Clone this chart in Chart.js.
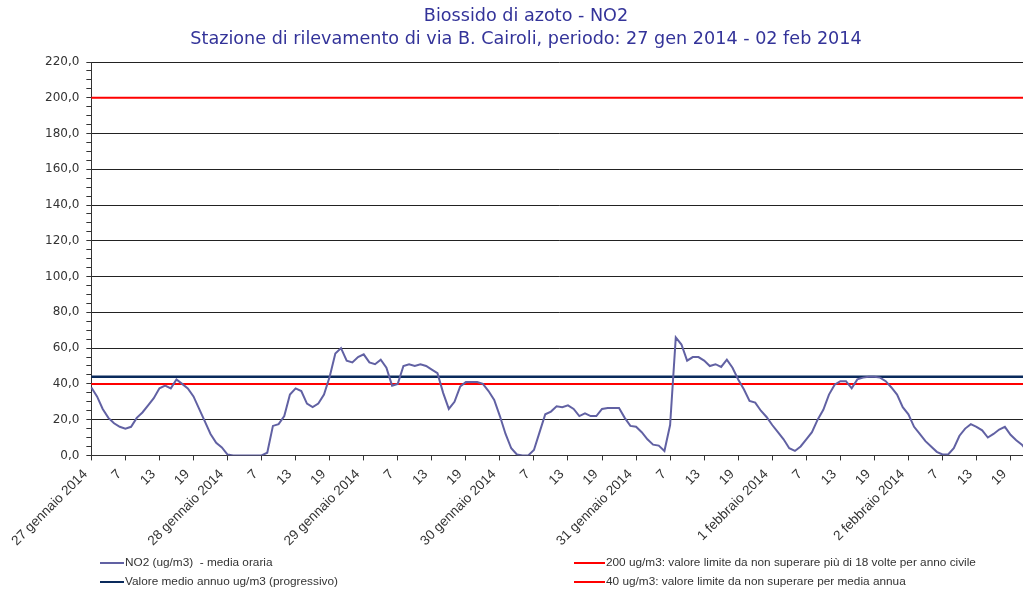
<!DOCTYPE html>
<html lang="it">
<head>
<meta charset="utf-8">
<title>Biossido di azoto - NO2</title>
<script src="https://cdn.jsdelivr.net/npm/chart.js@4.4.1/dist/chart.umd.min.js"></script>
<style>
  html, body { margin: 0; padding: 0; background: #fff; }
  #wrap { position: relative; width: 1023px; height: 590px; overflow: hidden; }
  #grafico { position: absolute; left: 0; top: 0; }
  #titolo {
    position: absolute; left: 0; top: 4px; width: 1052px;
    text-align: center; color: #333399;
    font: 17.6px "DejaVu Sans", sans-serif; line-height: 23px;
  }
  .colonna { position: absolute; top: 553px; font: 11.8px "Liberation Sans", Arial, sans-serif; color: #333; }
  .voce { height: 19px; line-height: 19px; white-space: pre; }
  .voce i { display: inline-block; height: 2px; vertical-align: middle; margin-right: 1px; }
  #legenda-sx .voce i { width: 24px; }
  #legenda-dx .voce i { width: 31px; }
</style>
</head>
<body>
<div id="wrap">
  <canvas id="grafico" width="1028" height="590"></canvas>
  <div id="titolo">Biossido di azoto - NO2<br>Stazione di rilevamento di via B. Cairoli, periodo: 27 gen 2014 - 02 feb 2014</div>
  <div class="colonna" id="legenda-sx" style="left: 100px;"></div>
  <div class="colonna" id="legenda-dx" style="left: 574px;"></div>
</div>
<script>
// giorni del periodo (etichette principali dell'asse x)
const giorni = [
  '27 gennaio 2014', '28 gennaio 2014', '29 gennaio 2014', '30 gennaio 2014',
  '31 gennaio 2014', '1 febbraio 2014', '2 febbraio 2014'
];

// NO2 media oraria (ug/m3), un valore per ora a partire dalle 1 del 27 gennaio
const valori = [
  38, 33, 26, 21, 18, 16, 15, 16, 21, 24, 28, 32, 37.5, 39, 37.5, 42.5, 40, 37.5, 33, 26, 19, 12, 7, 4.5,
  0.5, 0, 0, 0, 0, 0, 0, 1.5, 16.5, 17.5, 22, 34, 37.5, 36, 29, 27, 29, 34, 44, 57, 60, 53, 52, 55,
  56.5, 52, 51, 53.5, 49, 39, 40, 50, 51, 50, 51, 50, 48, 46, 35, 26, 30, 38.5, 41, 41, 41, 40, 36, 31,
  22, 12, 4, 0.5, 0, 0, 3, 13, 23, 24.5, 27.5, 27, 28, 26, 22, 23.5, 22, 22, 26, 26.5, 26.5, 26.5, 21, 16.5,
  16, 13, 9, 6, 5.5, 2.5, 17, 66, 62, 53, 55, 55, 53, 50, 51, 49.5, 53.5, 49, 42.5, 37, 30.5, 29.5, 25, 21.5,
  17, 13, 9, 4, 2.5, 5, 9, 13, 20, 25.5, 34, 39.5, 41.5, 41.5, 37.5, 42.5, 43.5, 44, 44, 43.5, 41.5, 38, 34, 27,
  23, 16, 12, 8, 5, 2, 0.5, 0.5, 4, 11, 15, 17.5, 16, 14, 10, 12, 14.5, 16, 11.5, 8.5, 6, 2
];

// valori di riferimento
const mediaAnnua = 44;
const limiteOrario = 200;
const limiteAnnuo = 40;
const yMax = 220;

// una categoria per ogni ora
const ore = valori.map((v, i) => giorni[Math.floor(i / 24)] + ' ore ' + (i % 24 + 1));

function lineaCostante(valore) {
  return [{ x: ore[0], y: valore }, { x: ore[ore.length - 1], y: valore }];
}

const datasets = [
  {
    label: 'NO2 (ug/m3)  - media oraria',
    data: valori,
    borderColor: '#6161a3',
    borderWidth: 2,
    colonna: 'sx'
  },
  {
    label: 'Valore medio annuo ug/m3 (progressivo)',
    data: lineaCostante(mediaAnnua),
    borderColor: '#0a2a5c',
    borderWidth: 2.5,
    colonna: 'sx'
  },
  {
    label: '200 ug/m3: valore limite da non superare più di 18 volte per anno civile',
    data: lineaCostante(limiteOrario),
    borderColor: '#ff0000',
    borderWidth: 2,
    colonna: 'dx'
  },
  {
    label: '40 ug/m3: valore limite da non superare per media annua',
    data: lineaCostante(limiteAnnuo),
    borderColor: '#ff0000',
    borderWidth: 2,
    colonna: 'dx'
  }
];

const chart = new Chart(document.getElementById('grafico'), {
  type: 'line',
  data: { labels: ore, datasets: datasets },
  options: {
    responsive: false,
    animation: false,
    layout: { padding: { left: 38, right: 0, top: 62, bottom: 35 } },
    elements: {
      point: { radius: 0 },
      line: { tension: 0, fill: false }
    },
    plugins: {
      legend: { display: false },
      title: { display: false },
      tooltip: { enabled: false }
    },
    scales: {
      x: {
        border: { color: '#333' },
        grid: { drawOnChartArea: false, tickColor: '#333', tickLength: 5 },
        ticks: {
          autoSkip: false,
          minRotation: 45,
          maxRotation: 45,
          padding: 6,
          labelOffset: -6,
          color: '#333',
          font: { family: 'Liberation Sans', size: 13.5 },
          callback: (value, index) => {
            if (index % 6 !== 0) return null;
            return index % 24 === 0 ? giorni[index / 24] : String(index % 24 + 1);
          }
        }
      },
      y: {
        min: 0,
        max: yMax,
        border: { color: '#333' },
        grid: {
          color: ctx => (ctx.tick && ctx.tick.value % 20 === 0) ? '#222' : 'rgba(0,0,0,0)',
          tickColor: '#333',
          tickLength: 5
        },
        ticks: {
          stepSize: 5,
          autoSkip: false,
          padding: 7,
          color: '#333',
          font: { family: 'DejaVu Sans', size: 12 },
          callback: v => v % 20 === 0 ? v.toFixed(1).replace('.', ',') : ''
        }
      }
    }
  }
});

// legenda su due colonne, costruita dai dataset
chart.data.datasets.forEach(ds => {
  const voce = document.createElement('div');
  voce.className = 'voce';
  const segno = document.createElement('i');
  segno.style.background = ds.borderColor;
  voce.appendChild(segno);
  voce.appendChild(document.createTextNode(ds.label));
  document.getElementById('legenda-' + ds.colonna).appendChild(voce);
});
</script>
</body>
</html>
